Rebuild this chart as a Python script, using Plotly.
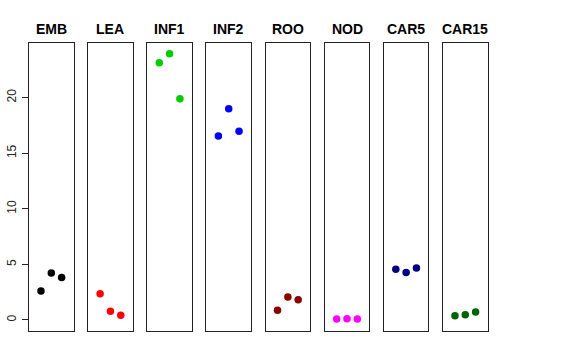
import plotly.graph_objects as go

categories = ["EMB", "LEA", "INF1", "INF2", "ROO", "NOD", "CAR5", "CAR15"]
colors = ["#000000", "#FF0000", "#00CD00", "#0000FF", "#8B0000", "#FF00FF", "#000080", "#006400"]
rep_x = [1, 2, 3]
values = {
    "EMB":   [2.61, 4.23, 3.81],
    "LEA":   [2.37, 0.78, 0.42],
    "INF1":  [23.14, 23.95, 19.90],
    "INF2":  [16.55, 19.00, 16.97],
    "ROO":   [0.87, 2.07, 1.83],
    "NOD":   [0.09, 0.12, 0.09],
    "CAR5":  [4.56, 4.26, 4.68],
    "CAR15": [0.39, 0.48, 0.72],
}
y_ticks = [0, 5, 10, 15, 20]

W, H = 576, 360
left0, step, pw = 29.0, 59.14, 44.6
top_px, bot_px = 43.3, 331.0
title_px = 29
y_dom = [1 - bot_px / H, 1 - top_px / H]

fig = go.Figure()
layout = dict(
    width=W, height=H, margin=dict(l=0, r=0, t=0, b=0, autoexpand=False),
    paper_bgcolor="white", plot_bgcolor="white", showlegend=False,
    font=dict(family="Liberation Sans, Arial, sans-serif", size=12, color="black"),
)
annotations = []
for i, cat in enumerate(categories):
    n = "" if i == 0 else str(i + 1)
    x0 = left0 + i * step
    fig.add_trace(go.Scatter(
        x=rep_x, y=values[cat], mode="markers",
        marker=dict(color=colors[i], size=7.5, line=dict(width=0)),
        xaxis="x" + n, yaxis="y" + n, hoverinfo="skip",
    ))
    layout["xaxis" + n] = dict(
        domain=[x0 / W, (x0 + pw) / W], range=[-0.16, 4.16],
        showgrid=False, zeroline=False, showticklabels=False, ticks="",
        showline=True, mirror=True, linecolor="#222222", linewidth=1,
        anchor="y" + n, automargin=False,
    )
    ya = dict(
        domain=y_dom, range=[-0.99, 24.88],
        showgrid=False, zeroline=False,
        showline=True, mirror=True, linecolor="#222222", linewidth=1,
        anchor="x" + n, automargin=False,
    )
    if i == 0:
        ya.update(tickvals=y_ticks, ticktext=[str(v) for v in y_ticks],
                  ticks="outside", ticklen=6, tickcolor="#222222",
                  tickangle=-90, ticklabelstandoff=1,
                  tickfont=dict(size=12, color="#222222"))
    else:
        ya.update(showticklabels=False, ticks="")
    layout["yaxis" + n] = ya
    annotations.append(dict(
        x=(x0 + pw / 2) / W, y=1 - title_px / H, xref="paper", yref="paper",
        text="<b>" + cat + "</b>", showarrow=False,
        xanchor="center", yanchor="middle",
        font=dict(size=14, color="black", family="Liberation Sans, Arial, sans-serif"),
    ))
layout["annotations"] = annotations
fig.update_layout(**layout)
fig.write_html("out.html", config={"displayModeBar": False},
               post_script="document.body.style.margin='0';")
